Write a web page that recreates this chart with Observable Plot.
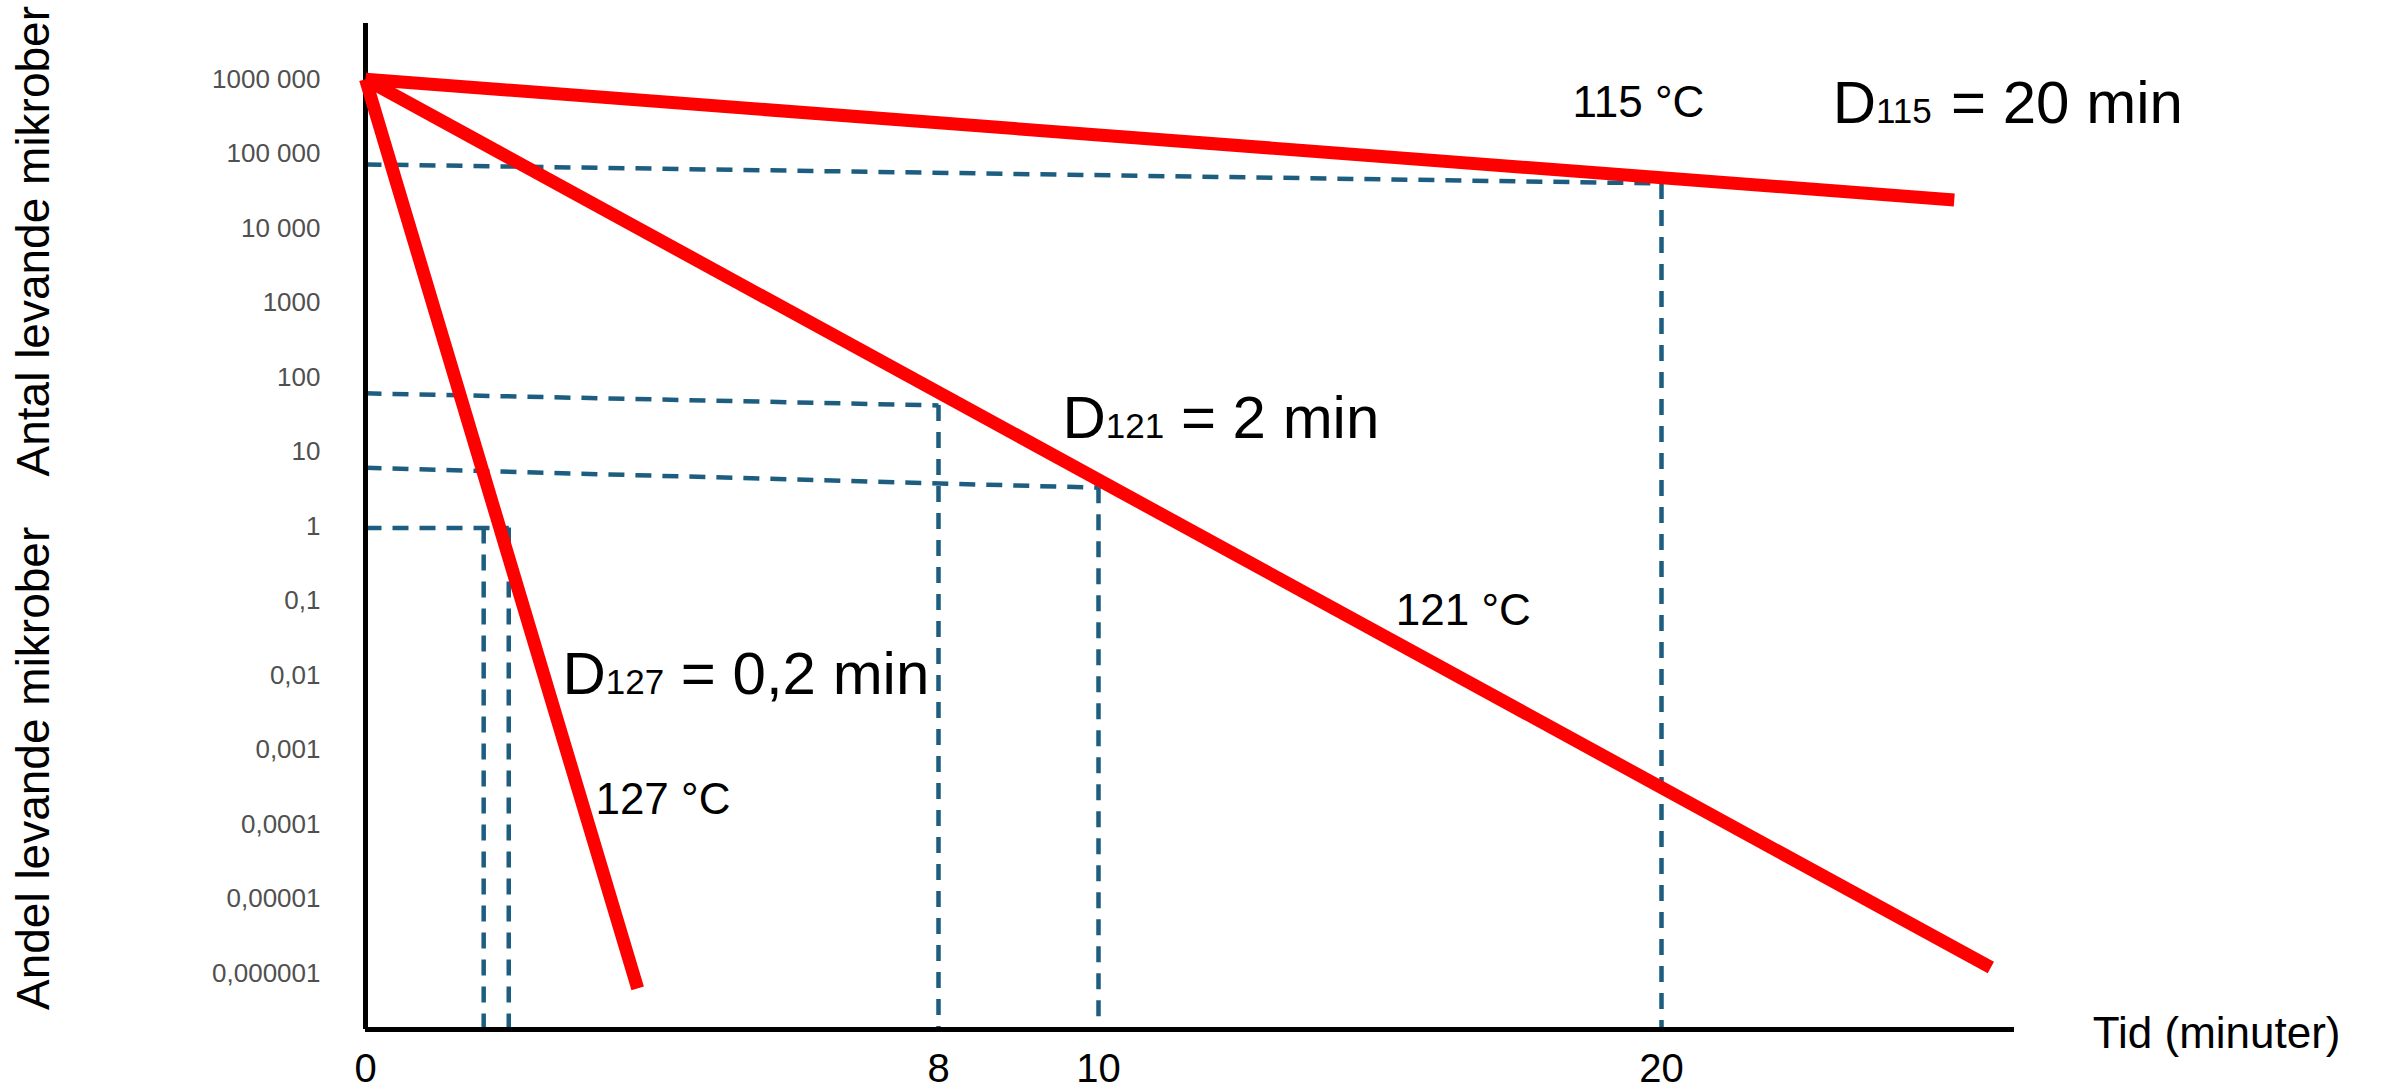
<!DOCTYPE html>
<html>
<head>
<meta charset="utf-8">
<script src="https://cdn.jsdelivr.net/npm/d3@7"></script>
<script src="https://cdn.jsdelivr.net/npm/@observablehq/plot@0.6"></script>
<style>
  html, body { margin: 0; padding: 0; background: #ffffff; }
  #chart svg { display: block; }
</style>
</head>
<body>
<div id="chart"></div>
<script>
// ---- Data ----
// Survival curves (time in minutes, number of living microbes)
const temps      = ["115 °C", "121 °C", "127 °C"];
const startTime  = [0, 0, 0];
const startCount = [1e6, 1e6, 1e6];
const endTime    = [25.2, 25.85, 3.8];
const endCount   = [2.4e4, 1.2e-6, 6.3e-7];

// Dashed read-off guides: horizontal from the y axis to the curve, then down to the time axis
const guideTime       = [20, 8, 10, 2.0];
const guideCountAxis  = [7.2e4, 61, 6.1, 0.95];
const guideCountCurve = [4.0e4, 42, 3.3, 0.95];
const extraGuideTime  = [1.65];
const extraGuideCount = [0.95];

// Axes
const yTicks      = [1e6, 1e5, 1e4, 1e3, 100, 10, 1, 0.1, 0.01, 0.001, 1e-4, 1e-5, 1e-6];
const yTickLabels = ["1000 000", "100 000", "10 000", "1000", "100", "10", "1",
                     "0,1", "0,01", "0,001", "0,0001", "0,00001", "0,000001"];
const xTicks      = [0, 8, 10, 20];
const xTickLabels = ["0", "8", "10", "20"];
const yDomain     = [1.77e-7, 5.6e6];

// Axis titles
const yTitles     = ["Antal levande mikrober", "Andel levande mikrober"];
const yTitleTime  = [-4.63, -4.63];
const yTitleCount = [6700, 5.65e-4];

// Temperature labels and the x-axis title
const annoText  = ["115 °C", "121 °C", "127 °C", "Tid (minuter)"];
const annoTime  = [18.42, 15.28, 3.21, 27.66];
const annoCount = [3.1e5, 0.047, 1.4e-4, 1.0e-7];

// D-value labels
const dSub   = ["115", "121", "127"];
const dRest  = ["= 20 min", "= 2 min", "= 0,2 min"];
const dTime  = [23.04, 9.55, 2.75];
const dCount = [2.57e5, 15.2, 5.7e-3];

// ---- Tables built from the arrays ----
const curves = temps.flatMap((t, i) => [
  {temp: t, time: startTime[i], count: startCount[i]},
  {temp: t, time: endTime[i], count: endCount[i]}
]);
const guides = guideTime.map((t, i) => ({time: t, left: guideCountAxis[i], right: guideCountCurve[i]}));
const extraGuides = extraGuideTime.map((t, i) => ({time: t, count: extraGuideCount[i]}));
const yLabelMap = new Map(yTicks.map((v, i) => [v, yTickLabels[i]]));
const xLabelMap = new Map(xTicks.map((v, i) => [v, xTickLabels[i]]));
const yTitleData = yTitles.map((t, i) => ({text: t, time: yTitleTime[i], count: yTitleCount[i]}));
const annoData = annoText.map((t, i) => ({text: t, time: annoTime[i], count: annoCount[i]}));
const dData = dSub.map((s, i) => ({sub: s, rest: dRest[i], time: dTime[i], count: dCount[i]}));

const FONT = "'Liberation Sans', Arial, sans-serif";
const DASH = "#1d5e80";
const BIG = 60, SUB = 35;
const dashStyle = {stroke: DASH, strokeWidth: 4.5, strokeDasharray: "16,11"};

const chart = Plot.plot({
  width: 2386,
  height: 1091,
  marginLeft: 365,
  marginRight: 372,
  marginTop: 23,
  marginBottom: 62,
  style: {fontFamily: FONT, background: "#ffffff", overflow: "visible"},
  x: {type: "linear", domain: [0, 8, 10, 20], range: [365, 938, 1098, 1661]},
  y: {type: "log", domain: yDomain, range: [1029, 23]},
  marks: [
    // dashed guides
    Plot.link(guides, {x1: () => 0, y1: "left", x2: "time", y2: "right", ...dashStyle}),
    Plot.ruleX(guides, {x: "time", y1: "right", y2: () => yDomain[0], ...dashStyle}),
    Plot.ruleX(extraGuides, {x: "time", y1: "count", y2: () => yDomain[0], ...dashStyle}),
    // axis lines
    Plot.ruleX([0], {stroke: "#000", strokeWidth: 5}),
    Plot.ruleY([yDomain[0]], {stroke: "#000", strokeWidth: 5}),
    // survival curves
    Plot.line(curves, {x: "time", y: "count", z: "temp", stroke: "#ff0000",
      strokeWidth: 13, strokeLinecap: "butt"}),
    // axes
    Plot.axisY({ticks: yTicks, tickFormat: d => yLabelMap.get(d), tickSize: 0,
      tickPadding: 45, fontSize: 26, fill: "#505050", label: null}),
    Plot.axisX({ticks: xTicks, tickFormat: d => xLabelMap.get(d), tickSize: 0,
      tickPadding: 24, fontSize: 40, fill: "#000", label: null}),
    // axis titles
    Plot.text(yTitleData, {x: "time", y: "count", text: "text", rotate: -90,
      fontSize: 46, fill: "#000"}),
    // temperature labels + x title
    Plot.text(annoData, {x: "time", y: "count", text: "text", textAnchor: "start",
      lineAnchor: "bottom", fontSize: 44, fill: "#000"}),
    // D-value labels: "D", subscript, rest
    Plot.text(dData, {x: "time", y: "count", text: () => "D", textAnchor: "start",
      lineAnchor: "bottom", fontSize: BIG, fill: "#000"}),
    Plot.text(dData, {x: "time", y: "count", text: "sub", textAnchor: "start",
      lineAnchor: "bottom", fontSize: SUB, dx: 0.722 * BIG, fill: "#000"}),
    Plot.text(dData, {x: "time", y: "count", text: "rest", textAnchor: "start",
      lineAnchor: "bottom", fontSize: BIG, dx: 0.722 * BIG + 3 * 0.556 * SUB + 0.278 * BIG, fill: "#000"})
  ]
});
document.getElementById("chart").append(chart);
</script>
</body>
</html>
